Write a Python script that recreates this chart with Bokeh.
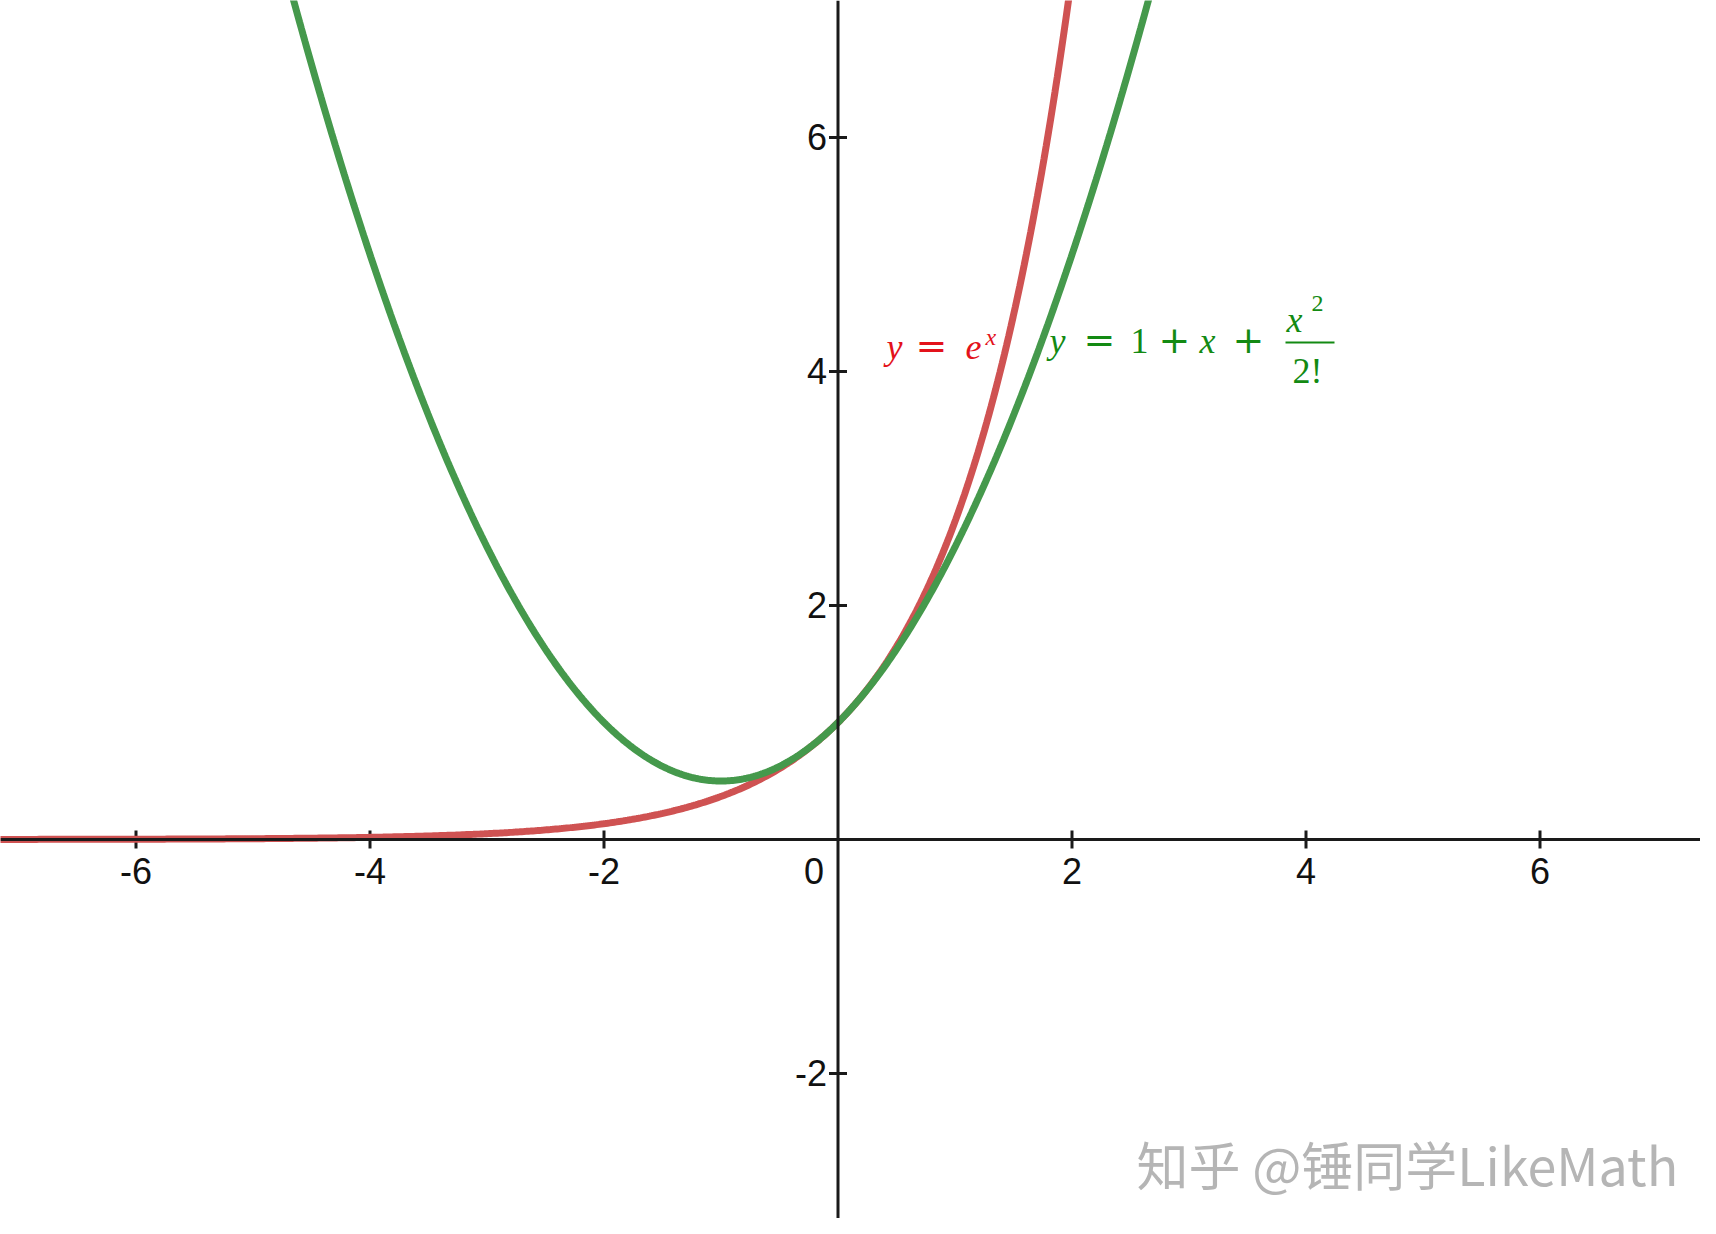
import numpy as np
from bokeh.plotting import figure
from bokeh.models import Range1d, Span, Label
from bokeh.core.properties import value
from bokeh.embed import file_html
from bokeh.resources import INLINE

# ---- data ----
x_ticks = [-6, -4, -2, 2, 4, 6]
x_tick_labels = ["-6", "-4", "-2", "2", "4", "6"]
y_ticks = [-2, 2, 4, 6]
y_tick_labels = ["-2", "2", "4", "6"]
x_red = np.linspace(-7.3, 2.1, 500)
y_red = np.exp(x_red)                      # y = e^x
x_green = np.linspace(-4.8, 2.8, 500)
y_green = 1 + x_green + x_green ** 2 / 2   # y = 1 + x + x^2/2!

RED = "#cf5252"
GREEN = "#45994c"
RED_TXT = "#e3121b"
GREEN_TXT = "#138a13"

# reference pixel -> data helpers (for annotations only)
X0, Y0, U = 837.5, 839.0, 117.0
def dx(X):
    return (X - X0) / U
def dy(Y):
    return (Y0 - Y) / U

W, H = 1700, 1218
p = figure(width=W, height=H, output_backend="svg", toolbar_location=None,
           x_range=Range1d(dx(0), dx(W)), y_range=Range1d(dy(H), dy(0)),
           min_border=0, outline_line_color=None)
p.axis.visible = False
p.grid.visible = False
p.background_fill_color = "white"
p.border_fill_color = "white"

# axes through origin
p.add_layout(Span(location=0, dimension="width", line_color="#1a1a1a", line_width=3))
p.add_layout(Span(location=0, dimension="height", line_color="#1a1a1a", line_width=3))

# tick marks
p.scatter(x=x_ticks, y=[0] * len(x_ticks), marker="dash", angle=np.pi / 2, size=18,
          line_color="#1a1a1a", line_width=3)
p.scatter(x=[0] * len(y_ticks), y=y_ticks, marker="dash", size=18,
          line_color="#1a1a1a", line_width=3)

# tick labels
p.text(x=x_ticks, y=[0] * len(x_ticks), text=x_tick_labels, text_align="center",
       text_baseline="alphabetic", y_offset=31, text_font=value("Liberation Sans"),
       text_font_size="36px", text_color="#111111")
p.text(x=[0], y=[0], text=["0"], text_align="center", text_baseline="alphabetic",
       x_offset=-24, y_offset=31, text_font=value("Liberation Sans"),
       text_font_size="36px", text_color="#111111")
p.text(x=[0] * len(y_ticks), y=y_ticks, text=y_tick_labels, text_align="right",
       text_baseline="alphabetic", x_offset=-11, y_offset=-1,
       text_font=value("Liberation Sans"), text_font_size="36px", text_color="#111111")

# curves
p.line(x_red, y_red, line_color=RED, line_width=7)
p.line(x_green, y_green, line_color=GREEN, line_width=7)

def lab(text, X, Yb, color, size=36, style="italic", font="Liberation Serif"):
    # Yb = wanted baseline in reference pixels; corrected for renderer offset
    Y = Yb - 0.36 * size
    p.add_layout(Label(x=dx(X), y=dy(Y), text=text, text_color=color,
                       text_font=font, text_font_size=f"{size}px", text_font_style=style,
                       text_align="left", text_baseline="alphabetic"))

# y = e^x
lab("y", 886, 359, RED_TXT)
lab("=", 915, 359, RED_TXT, size=38, style="normal", font="DejaVu Serif")
lab("e", 965, 359, RED_TXT)
lab("x", 985, 345, RED_TXT, size=24)

# y = 1 + x + x^2/2!
lab("y", 1049, 353, GREEN_TXT)
lab("=", 1083, 353, GREEN_TXT, size=38, style="normal", font="DejaVu Serif")
lab("1", 1130, 353, GREEN_TXT, style="normal")
lab("+", 1158, 353, GREEN_TXT, size=38, style="normal", font="DejaVu Serif")
lab("x", 1199, 353, GREEN_TXT)
lab("+", 1232, 353, GREEN_TXT, size=38, style="normal", font="DejaVu Serif")
lab("x", 1286, 332, GREEN_TXT)
lab("2", 1311, 312, GREEN_TXT, size=24, style="normal")
lab("2!", 1292, 383, GREEN_TXT, style="normal")
p.segment(x0=[dx(1285)], y0=[dy(342)], x1=[dx(1334)], y1=[dy(342)],
          line_color=GREEN_TXT, line_width=2)

# watermark
p.add_layout(Label(x=dx(1136), y=dy(1163), text="知乎 @锤同学LikeMath",
                   text_color="#b5b5b5", text_font="Noto Sans CJK SC",
                   text_font_size="52px", text_align="left",
                   text_baseline="alphabetic"))

open("out.html", "w").write(file_html(p, INLINE))
